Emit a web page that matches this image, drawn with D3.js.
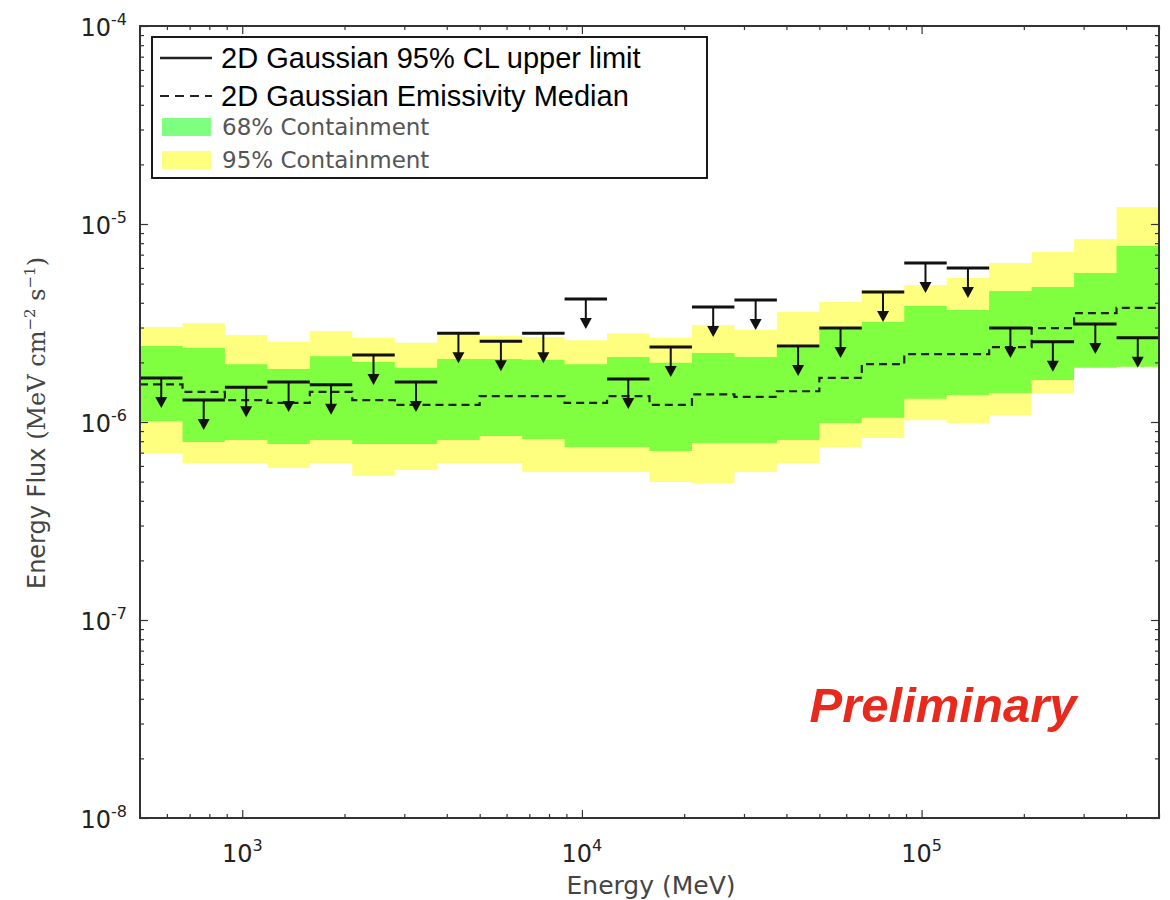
<!DOCTYPE html>
<html>
<head>
<meta charset="utf-8">
<script src="https://cdn.jsdelivr.net/npm/d3@7"></script>
<style>
  html, body { margin: 0; padding: 0; background: #fff; }
  svg { display: block; }
</style>
</head>
<body>
<svg id="chart" width="1170" height="900"></svg>
<script>
// Energy bin edges (MeV), eight bins per decade
const binEdges = [500, 667, 889, 1186, 1581, 2108, 2812, 3749, 5000, 6668, 8891, 11857,
  15811, 21085, 28117, 37494, 50000, 66676, 88914, 118569, 158114, 210848, 281171, 374947, 500000];

// 95% CL upper limits per bin (MeV cm^-2 s^-1)
const upperLimits = [1.67e-6, 1.29e-6, 1.50e-6, 1.59e-6, 1.54e-6, 2.18e-6, 1.59e-6, 2.81e-6,
  2.56e-6, 2.81e-6, 4.18e-6, 1.65e-6, 2.39e-6, 3.81e-6, 4.13e-6, 2.42e-6,
  2.98e-6, 4.54e-6, 6.35e-6, 6.00e-6, 2.98e-6, 2.54e-6, 3.13e-6, 2.66e-6];

// Emissivity median per bin
const medianFlux = [1.55e-6, 1.42e-6, 1.29e-6, 1.25e-6, 1.42e-6, 1.29e-6, 1.22e-6, 1.22e-6,
  1.35e-6, 1.35e-6, 1.25e-6, 1.35e-6, 1.22e-6, 1.38e-6, 1.34e-6, 1.43e-6,
  1.67e-6, 1.96e-6, 2.20e-6, 2.20e-6, 2.39e-6, 2.98e-6, 3.55e-6, 3.77e-6];

// 68% containment band
const band68Hi = [2.42e-6, 2.37e-6, 1.96e-6, 1.85e-6, 2.15e-6, 2.01e-6, 1.88e-6, 2.08e-6,
  2.08e-6, 2.06e-6, 1.96e-6, 2.13e-6, 1.99e-6, 2.23e-6, 2.13e-6, 2.37e-6,
  2.98e-6, 3.20e-6, 3.85e-6, 3.68e-6, 4.59e-6, 4.81e-6, 5.66e-6, 7.74e-6];
const band68Lo = [1.01e-6, 7.93e-7, 8.11e-7, 7.75e-7, 8.11e-7, 7.75e-7, 7.75e-7, 8.11e-7,
  8.50e-7, 8.21e-7, 7.48e-7, 7.48e-7, 7.14e-7, 7.84e-7, 7.84e-7, 8.11e-7,
  9.89e-7, 1.05e-6, 1.31e-6, 1.37e-6, 1.40e-6, 1.63e-6, 1.88e-6, 1.90e-6];

// 95% containment band
const band95Hi = [3.02e-6, 3.16e-6, 2.75e-6, 2.54e-6, 2.88e-6, 2.66e-6, 2.51e-6, 2.81e-6,
  2.72e-6, 2.69e-6, 2.59e-6, 2.81e-6, 2.66e-6, 3.09e-6, 2.92e-6, 3.59e-6,
  4.04e-6, 4.64e-6, 4.92e-6, 5.34e-6, 6.35e-6, 7.22e-6, 8.40e-6, 1.22e-5];
const band95Lo = [6.98e-7, 6.21e-7, 6.21e-7, 5.86e-7, 6.21e-7, 5.34e-7, 5.73e-7, 6.21e-7,
  6.21e-7, 5.59e-7, 5.59e-7, 5.59e-7, 4.98e-7, 4.92e-7, 5.59e-7, 6.21e-7,
  7.48e-7, 8.30e-7, 1.02e-6, 9.89e-7, 1.08e-6, 1.40e-6, 1.88e-6, 1.90e-6];

// Axis ranges and tick labels
const xDomain = [500, 500000];
const yDomain = [1e-8, 1e-4];
const xMajorTicks = [1e3, 1e4, 1e5];
const xTickExponents = ["3", "4", "5"];
const yMajorTicks = [1e-8, 1e-7, 1e-6, 1e-5, 1e-4];
const yTickExponents = ["-8", "-7", "-6", "-5", "-4"];

const legendItems = [
  { label: "2D Gaussian 95% CL upper limit", kind: "solid" },
  { label: "2D Gaussian Emissivity Median", kind: "dashed" },
  { label: "68% Containment", kind: "patch", color: "#00ff00" },
  { label: "95% Containment", kind: "patch", color: "#ffff00" }
];

const svg = d3.select("#chart");
const plot = { left: 140, right: 1159, top: 26, bottom: 818 };

const x = d3.scaleLog().domain(xDomain).range([plot.left, plot.right]);
const y = d3.scaleLog().domain(yDomain).range([plot.bottom, plot.top]);

svg.append("defs").append("clipPath").attr("id", "plotClip")
  .append("rect")
  .attr("x", plot.left).attr("y", plot.top)
  .attr("width", plot.right - plot.left).attr("height", plot.bottom - plot.top);

const g = svg.append("g").attr("clip-path", "url(#plotClip)");

// Step-wise data: one point per bin edge, the last bin repeated at the upper edge
function stepData(values) {
  const pts = values.map((v, i) => ({ e: binEdges[i], v }));
  pts.push({ e: binEdges[binEdges.length - 1], v: values[values.length - 1] });
  return pts;
}
function stepBand(lo, hi) {
  const pts = lo.map((v, i) => ({ e: binEdges[i], lo: v, hi: hi[i] }));
  pts.push({ e: binEdges[binEdges.length - 1], lo: lo[lo.length - 1], hi: hi[hi.length - 1] });
  return pts;
}

const area = d3.area()
  .x(d => x(d.e)).y0(d => y(d.lo)).y1(d => y(d.hi))
  .curve(d3.curveStepAfter);

g.append("path")
  .datum(stepBand(band95Lo, band95Hi))
  .attr("d", area)
  .attr("fill", "#ffff00").attr("fill-opacity", 0.5);

g.append("path")
  .datum(stepBand(band68Lo, band68Hi))
  .attr("d", area)
  .attr("fill", "#00ff00").attr("fill-opacity", 0.5);

const line = d3.line().x(d => x(d.e)).y(d => y(d.v)).curve(d3.curveStepAfter);

g.append("path")
  .datum(stepData(medianFlux))
  .attr("d", line)
  .attr("fill", "none")
  .attr("stroke", "#222")
  .attr("stroke-width", 2.2)
  .attr("stroke-dasharray", "8,5");

// Upper limits: horizontal bar across the bin with a downward arrow at its centre
const ul = g.append("g").selectAll("g")
  .data(upperLimits.map((v, i) => ({ v, e0: binEdges[i], e1: binEdges[i + 1] })))
  .join("g");

ul.append("line")
  .attr("x1", d => x(d.e0)).attr("x2", d => x(d.e1))
  .attr("y1", d => y(d.v)).attr("y2", d => y(d.v))
  .attr("stroke", "#111").attr("stroke-width", 3);

ul.append("line")
  .attr("x1", d => x(Math.sqrt(d.e0 * d.e1))).attr("x2", d => x(Math.sqrt(d.e0 * d.e1)))
  .attr("y1", d => y(d.v)).attr("y2", d => y(d.v) + 22)
  .attr("stroke", "#111").attr("stroke-width", 2);

ul.append("path")
  .attr("d", d => {
    const cx = x(Math.sqrt(d.e0 * d.e1));
    const cy = y(d.v);
    return `M${cx - 6},${cy + 19} L${cx + 6},${cy + 19} L${cx},${cy + 30} Z`;
  })
  .attr("fill", "#111");

// Ticks (pointing inwards on all four sides)
const axisColor = "#333";
function styleAxis(sel) {
  sel.select(".domain").remove();
  sel.selectAll(".tick line").attr("stroke", axisColor).attr("stroke-width", 1.2);
}
const xMinor = x.ticks().filter(t => !xMajorTicks.includes(t));
const yMinor = y.ticks().filter(t => !yMajorTicks.some(m => Math.abs(m - t) / m < 1e-6));

[[d3.axisBottom, plot.bottom], [d3.axisTop, plot.top]].forEach(([ax, pos]) => {
  svg.append("g").attr("transform", `translate(0,${pos})`)
    .call(ax(x).tickValues(xMinor).tickSize(-4).tickFormat(""))
    .call(styleAxis);
  svg.append("g").attr("transform", `translate(0,${pos})`)
    .call(ax(x).tickValues(xMajorTicks).tickSize(-8).tickFormat(""))
    .call(styleAxis);
});
[[d3.axisLeft, plot.left], [d3.axisRight, plot.right]].forEach(([ax, pos]) => {
  svg.append("g").attr("transform", `translate(${pos},0)`)
    .call(ax(y).tickValues(yMinor).tickSize(-4).tickFormat(""))
    .call(styleAxis);
  svg.append("g").attr("transform", `translate(${pos},0)`)
    .call(ax(y).tickValues(yMajorTicks).tickSize(-8).tickFormat(""))
    .call(styleAxis);
});

// Frame
svg.append("rect")
  .attr("x", plot.left).attr("y", plot.top)
  .attr("width", plot.right - plot.left).attr("height", plot.bottom - plot.top)
  .attr("fill", "none").attr("stroke", axisColor).attr("stroke-width", 2);

// Tick labels as powers of ten
const labelFont = "DejaVu Sans";
const xl = svg.append("g").selectAll("text").data(xMajorTicks).join("text")
  .attr("x", d => x(d)).attr("y", 862)
  .attr("text-anchor", "middle")
  .attr("font-family", labelFont).attr("font-size", 24).attr("fill", "#222");
xl.append("tspan").text("10");
xl.append("tspan").attr("dy", -11).attr("font-size", 16).text((d, i) => xTickExponents[i]);

const yl = svg.append("g").selectAll("text").data(yMajorTicks).join("text")
  .attr("x", 127).attr("y", d => y(d) + 10)
  .attr("text-anchor", "end")
  .attr("font-family", labelFont).attr("font-size", 24).attr("fill", "#222");
yl.append("tspan").text("10");
yl.append("tspan").attr("dy", -11).attr("font-size", 16).text((d, i) => yTickExponents[i]);

// Axis titles
svg.append("text")
  .attr("x", 651).attr("y", 894)
  .attr("text-anchor", "middle")
  .attr("font-family", labelFont).attr("font-size", 25).attr("fill", "#444")
  .text("Energy (MeV)");

const yt = svg.append("text")
  .attr("transform", `translate(45,423) rotate(-90)`)
  .attr("text-anchor", "middle")
  .attr("font-family", labelFont).attr("font-size", 24).attr("fill", "#444");
yt.append("tspan").text("Energy Flux ");
yt.append("tspan").attr("font-family", "DejaVu Serif").text("(MeV cm");
yt.append("tspan").attr("font-family", "DejaVu Serif").attr("font-size", 15).attr("dy", -10).text("\u22122");
yt.append("tspan").attr("font-family", "DejaVu Serif").attr("dy", 10).text(" s");
yt.append("tspan").attr("font-family", "DejaVu Serif").attr("font-size", 15).attr("dy", -10).text("\u22121");
yt.append("tspan").attr("font-family", "DejaVu Serif").attr("dy", 10).text(")");

// Watermark
svg.append("text")
  .attr("x", 943).attr("y", 722)
  .attr("text-anchor", "middle")
  .attr("font-family", "Liberation Sans").attr("font-weight", "bold").attr("font-style", "italic")
  .attr("font-size", 49).attr("fill", "#e8291c")
  .text("Preliminary");

// Legend
const lg = svg.append("g");
lg.append("rect")
  .attr("x", 152).attr("y", 37).attr("width", 555).attr("height", 141)
  .attr("fill", "#fff").attr("stroke", "#000").attr("stroke-width", 1.8);

const rowY = [58, 96, 127, 160];
legendItems.forEach((item, i) => {
  const cy = rowY[i];
  if (item.kind === "solid" || item.kind === "dashed") {
    lg.append("line")
      .attr("x1", 160).attr("x2", 212).attr("y1", cy).attr("y2", cy)
      .attr("stroke", "#222").attr("stroke-width", item.kind === "solid" ? 2.5 : 2)
      .attr("stroke-dasharray", item.kind === "dashed" ? "9,6" : null);
    lg.append("text")
      .attr("x", 221).attr("y", cy + 10)
      .attr("font-family", "Liberation Sans").attr("font-size", 29).attr("fill", "#000")
      .text(item.label);
  } else {
    lg.append("rect")
      .attr("x", 162).attr("y", cy - 9).attr("width", 49).attr("height", 18)
      .attr("fill", item.color).attr("fill-opacity", 0.5);
    lg.append("text")
      .attr("x", 222).attr("y", cy + 8)
      .attr("font-family", labelFont).attr("font-size", 23).attr("fill", "#555")
      .text(item.label);
  }
});
</script>
</body>
</html>
